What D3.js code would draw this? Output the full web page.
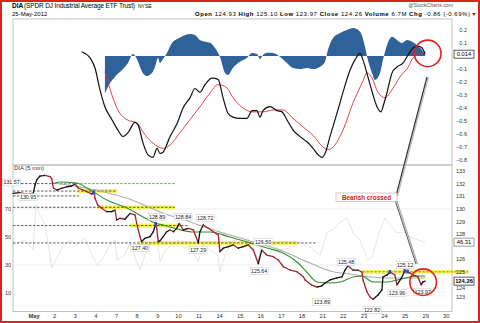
<!DOCTYPE html>
<html><head><meta charset="utf-8">
<script src="https://cdn.jsdelivr.net/npm/d3@7"></script>
<style>
body{margin:0;background:#fff}
svg{display:block}
text{font-family:"Liberation Sans",Arial,sans-serif}
</style></head>
<body><svg id="c" width="480" height="323"></svg>
<script>
// DIA 5-minute chart, 30 Apr - 25 May 2012, with MACD panel.
// Time is measured in trading days from the 30 Apr open.
const dayLabels = ["May","2","3","4","7","8","9","10","11","14","15","16","17","18","21","22","23","24","25","29","30"];
const macdTicks = [0.2,0.1,0,-0.1,-0.2,-0.3,-0.4,-0.5,-0.6,-0.7,-0.8];
const priceTicks = [133,132,131,130,129,128,126,125,124,123];
const oscTicks = [70,50,30,10];

const macdLine = [[3.33,0.033],[3.74,-0.015],[3.98,-0.092],[4.22,-0.26],[4.46,-0.39],[4.80,-0.49],[5.09,-0.57],[5.34,-0.62],[5.58,-0.59],[5.92,-0.51],[6.07,-0.53],[6.31,-0.67],[6.55,-0.76],[6.79,-0.78],[6.99,-0.71],[7.13,-0.75],[7.28,-0.74],[7.62,-0.62],[7.96,-0.52],[8.25,-0.40],[8.59,-0.32],[8.83,-0.25],[9.07,-0.28],[9.32,-0.22],[9.66,-0.17],[9.95,-0.18],[10.19,-0.32],[10.43,-0.44],[10.67,-0.47],[11.01,-0.48],[11.35,-0.48],[11.60,-0.42],[11.84,-0.42],[11.98,-0.47],[12.13,-0.42],[12.47,-0.39],[12.81,-0.42],[13.05,-0.43],[13.29,-0.49],[13.59,-0.57],[13.93,-0.62],[14.26,-0.66],[14.56,-0.71],[14.80,-0.76],[14.99,-0.78],[15.14,-0.75],[15.38,-0.62],[15.72,-0.44],[16.01,-0.28],[16.35,-0.11],[16.59,-0.03],[16.84,0.02],[16.98,-0.03],[17.22,-0.16],[17.47,-0.30],[17.66,-0.39],[17.86,-0.43],[17.95,-0.39],[18.15,-0.28],[18.39,-0.13],[18.63,-0.085],[18.92,-0.054],[19.17,0.008],[19.41,0.062],[19.65,0.077],[19.85,0.062],[20.0,0.014]];
const signalLine = [[4.46,-0.12],[4.80,-0.30],[5.09,-0.415],[5.53,-0.49],[6.02,-0.515],[6.31,-0.585],[6.79,-0.67],[7.28,-0.71],[7.62,-0.685],[8.10,-0.59],[8.59,-0.49],[9.07,-0.39],[9.56,-0.285],[9.95,-0.22],[10.38,-0.245],[10.67,-0.32],[11.16,-0.40],[11.64,-0.43],[12.13,-0.43],[12.62,-0.415],[13.10,-0.415],[13.59,-0.48],[14.07,-0.545],[14.56,-0.61],[15.04,-0.70],[15.28,-0.72],[15.53,-0.70],[16.01,-0.57],[16.50,-0.36],[16.93,-0.21],[17.18,-0.13],[17.42,-0.17],[17.71,-0.28],[18.05,-0.32],[18.39,-0.26],[18.78,-0.16],[19.17,-0.085],[19.41,-0.015],[19.89,0.023],[20.0,0.03]];
const histogram = [[4.46,-0.287],[4.71,-0.208],[4.95,-0.159],[5.29,-0.108],[5.58,-0.054],[5.82,0.015],[6.07,-0.044],[6.26,-0.121],[6.50,-0.154],[6.74,-0.131],[6.89,-0.082],[7.04,-0.015],[7.13,-0.054],[7.28,-0.023],[7.47,0.023],[7.71,0.10],[7.96,0.13],[8.25,0.154],[8.59,0.169],[8.83,0.162],[9.07,0.123],[9.32,0.11],[9.56,0.102],[9.80,0.062],[10.04,-0.005],[10.29,-0.131],[10.43,-0.146],[10.67,-0.092],[11.01,-0.044],[11.35,-0.015],[11.60,0.023],[11.84,0.015],[11.98,-0.023],[12.13,0.008],[12.32,0.025],[12.62,0.023],[12.95,-0.005],[13.29,-0.054],[13.59,-0.092],[13.93,-0.10],[14.26,-0.092],[14.56,-0.10],[14.90,-0.082],[15.14,-0.044],[15.28,0.046],[15.53,0.138],[15.87,0.177],[16.20,0.20],[16.50,0.215],[16.84,0.187],[17.08,0.072],[17.22,-0.031],[17.42,-0.131],[17.56,-0.185],[17.81,-0.131],[17.95,-0.031],[18.15,0.085],[18.39,0.148],[18.63,0.123],[18.87,0.10],[19.12,0.123],[19.36,0.11],[19.60,0.085],[19.85,0.046],[20.0,0.008]];

const price = [[0,131.23],[0.34,131.28],[0.66,131.17],[0.98,131.23],[1.07,131.89],[1.15,132.29],[1.31,132.60],[1.55,132.66],[1.80,132.55],[1.88,132.37],[1.96,131.65],[2.12,131.49],[2.36,131.63],[2.61,131.75],[2.85,131.81],[3.01,131.97],[3.17,131.65],[3.41,131.49],[3.65,131.31],[3.82,131.17],[3.94,131.36],[3.98,130.83],[4.11,130.30],[4.30,130.04],[4.55,129.77],[4.79,129.77],[4.95,129.90],[5.03,129.11],[5.19,129.25],[5.43,129.17],[5.68,129.64],[5.92,129.51],[6.00,128.85],[6.16,127.79],[6.24,127.40],[6.40,127.66],[6.65,127.79],[6.81,128.18],[6.94,128.89],[7.05,127.39],[7.13,127.45],[7.29,127.79],[7.46,128.18],[7.62,128.32],[7.78,128.18],[7.94,128.45],[8.07,128.84],[8.26,128.32],[8.51,128.45],[8.75,128.32],[8.99,127.29],[9.07,128.18],[9.23,128.72],[9.48,128.45],[9.72,128.18],[9.96,127.92],[10.04,126.60],[10.20,126.87],[10.45,126.99],[10.69,127.13],[10.93,126.87],[11.17,126.99],[11.42,127.13],[11.66,126.73],[11.90,125.64],[12.07,126.73],[12.31,126.33],[12.63,126.20],[12.87,125.94],[13.12,125.40],[13.44,125.14],[13.77,125.01],[14.09,124.61],[14.17,124.35],[14.49,123.95],[14.75,123.79],[14.98,123.89],[15.14,124.11],[15.38,124.35],[15.72,124.51],[15.96,124.59],[16.11,125.14],[16.25,125.48],[16.50,125.14],[16.74,125.14],[16.93,124.98],[16.98,124.35],[17.18,123.40],[17.32,123.00],[17.47,122.82],[17.71,123.16],[17.90,123.56],[17.95,124.59],[18.15,124.75],[18.29,124.98],[18.53,124.75],[18.63,123.96],[18.85,124.51],[19.02,125.12],[19.26,124.90],[19.41,124.75],[19.65,124.59],[19.80,123.97],[19.89,124.20],[20.0,124.26]];
const maFast = [[1.88,131.97],[2.28,132.13],[3.09,132.05],[3.74,131.49],[4.56,130.70],[5.53,130.06],[6.31,129.35],[6.89,128.87],[7.28,128.71],[7.96,128.40],[8.73,128.16],[9.56,128.16],[10.53,127.76],[11.50,127.29],[12.32,126.89],[13.10,126.49],[13.78,125.78],[14.26,124.98],[14.75,124.19],[15.38,124.11],[15.87,124.19],[16.50,124.59],[16.93,124.67],[17.47,124.19],[18.15,124.19],[18.63,124.35],[19.26,124.59],[19.60,124.67],[20.0,124.67]];
const maSlow = [[1.80,132.05],[3.01,131.81],[4.22,131.41],[5.68,130.75],[7.13,129.75],[8.59,128.95],[10.04,128.16],[11.50,127.45],[12.95,126.73],[14.41,125.70],[15.38,125.06],[16.36,124.82],[17.33,124.59],[18.29,124.51],[19.41,124.51],[20.0,124.51]];
const oscillator = [[0,44.3],[0.58,47.9],[0.97,40.7],[1.12,72.9],[1.31,65.7],[1.55,58.6],[1.89,27.9],[2.04,32.1],[2.38,42.9],[2.77,47.9],[3.11,44.3],[3.49,49.3],[3.83,37.1],[4.08,30],[4.37,35],[4.71,44.3],[4.95,47.9],[5.05,33.6],[5.43,37.1],[5.68,46.4],[5.97,33.6],[6.16,26.4],[6.40,37.1],[6.65,44.3],[6.99,51.4],[7.13,32.1],[7.38,40.7],[7.71,44.3],[8.01,47.9],[8.35,42.1],[8.59,44.3],[8.98,32.1],[9.22,44.3],[9.56,40.7],[9.95,37.1],[10.04,25],[10.29,37.1],[10.67,47.9],[11.01,44.3],[11.40,49.3],[11.74,40.7],[11.89,32.1],[12.08,47.9],[12.47,45.7],[12.95,40.7],[13.44,42.1],[13.93,45.7],[14.41,42.9],[14.90,37.1],[15.24,52.9],[15.62,56.4],[15.87,60.7],[16.21,63.6],[16.50,52.9],[16.84,47.9],[17.18,33.6],[17.42,35.7],[17.81,55],[18.05,63.6],[18.29,58.6],[18.63,52.9],[19.02,53.6],[19.26,50],[19.65,47.9],[20.0,46.31]];

// horizontal support / resistance lines: price, from day, to day, style
const levels = [[132.0,0,1.9,"black"],[132.0,1.9,7.9,"green"],[131.41,0,5.05,"black"],[131.02,0,3.2,"black"],[130.12,0,7.85,"black"],[128.67,0,8.5,"black"],[127.29,0,14.75,"black"],[125.0,16.95,22.1,"olive"]];
const bands = [[131.41,3.1,5.05],[130.12,4.1,7.85],[128.67,5.7,8.1],[127.29,6.1,13.8],[125.0,16.95,22.1]];
const blueMarks = [[3.92,131.3],[6.92,128.8],[18.28,124.98],[19.0,125.05],[19.15,125.02]];
// price notes: text, day, price where the note is pinned
const notes = [["131.57",-0.07,132.09],["130.95",0.73,130.94],["128.89",6.99,129.37],["127.40",6.16,126.89],["128.84",8.25,129.37],["127.29",8.98,126.73],["128.72",9.32,129.25],["126.50",12.13,127.39],["125.64",11.94,125.06],["125.48",16.16,125.78],["123.89",14.98,122.60],["122.82",17.42,121.97],["123.96",18.63,123.34],["125.12",19.02,125.54],["123.97",19.88,123.42]];

const svg = d3.select("#c");
const x = d3.scaleLinear().domain([0,21.3]).range([13,452]);
const yM = d3.scaleLinear().domain([-0.8,0.2]).range([160,30]);
const yP = d3.scaleLinear().domain([122,133]).range([309.6,171]);
const yO = d3.scaleLinear().domain([10,70]).range([293,209]);

// outer red frame
svg.append("rect").attr("x",1).attr("y",1).attr("width",478).attr("height",321)
  .attr("fill","none").attr("stroke","#e02020").attr("stroke-width",2);

// header
const hdr = svg.append("g").attr("font-size",6.5).attr("fill","#000");
hdr.append("text").attr("x",12).attr("y",8).attr("font-weight","bold").text("DIA");
hdr.append("text").attr("x",24).attr("y",8).attr("textLength",111).text("(SPDR DJ Industrial Average ETF Trust)");
hdr.append("text").attr("x",138).attr("y",8).attr("font-size",5).text("NYSE");
hdr.append("text").attr("x",12).attr("y",16).attr("font-size",6).text("25-May-2012");
const stats = hdr.append("text").attr("x",195).attr("y",16).attr("font-size",6).attr("textLength",275);
[["Open"," 124.93 "],["High"," 125.10 "],["Low"," 123.97 "],["Close"," 124.26 "],["Volume"," 6.7M "],["Chg"," -0.86 (-0.69%)"]].forEach(([k,v])=>{
  stats.append("tspan").attr("font-weight","bold").text(k);
  stats.append("tspan").text(v);
});
svg.append("path").attr("d","M472,13 L476,13 L474,16 Z").attr("fill","#d02020");
svg.append("text").attr("x",453).attr("y",7).attr("font-size",5.2).attr("fill","#555").attr("text-anchor","end").text("@StockCharts.com");

// panel frames
const fr = svg.append("g").attr("stroke","#b4b4b4").attr("stroke-width",0.8).attr("fill","none");
fr.append("rect").attr("x",13).attr("y",19).attr("width",439).attr("height",146);
fr.append("rect").attr("x",13).attr("y",165).attr("width",439).attr("height",146.5);

// gridlines in price panel
svg.append("g").selectAll("line").data([70,30]).join("line")
  .attr("x1",13).attr("x2",452).attr("y1",d=>yO(d)).attr("y2",d=>yO(d))
  .attr("stroke","#e8e8e8").attr("stroke-width",0.8);

// ---- MACD panel ----
svg.append("path").datum(histogram)
  .attr("d",d3.area().x(d=>x(d[0])).y0(yM(0)).y1(d=>yM(d[1])).curve(d3.curveMonotoneX))
  .attr("fill","#30629a");
svg.append("path").datum(signalLine)
  .attr("d",d3.line().x(d=>x(d[0])).y(d=>yM(d[1])).curve(d3.curveMonotoneX))
  .attr("fill","none").attr("stroke","#e03030").attr("stroke-width",0.9);
svg.append("path").datum(macdLine)
  .attr("d",d3.line().x(d=>x(d[0])).y(d=>yM(d[1])).curve(d3.curveMonotoneX))
  .attr("fill","none").attr("stroke","#111").attr("stroke-width",1.2);

const axM = svg.append("g").attr("transform","translate(467,0)")
  .call(d3.axisRight(yM).tickValues(macdTicks).tickSize(0).tickFormat(d=>d===0?"":d3.format(".1f")(d)));
axM.select(".domain").remove();
axM.selectAll("text").attr("x",0).attr("text-anchor","end").attr("font-size",5.5).attr("font-family",null).attr("fill","#333");

// ---- price panel ----
svg.append("path").datum(oscillator)
  .attr("d",d3.line().x(d=>x(d[0])).y(d=>yO(d[1])))
  .attr("fill","none").attr("stroke","#dedede").attr("stroke-width",0.8);

svg.append("g").selectAll("rect").data(bands).join("rect")
  .attr("x",d=>x(d[1])).attr("width",d=>x(d[2])-x(d[1]))
  .attr("y",d=>yP(d[0])-2).attr("height",4).attr("fill","#f6f24a").attr("opacity",0.9);
const lvlColor = {black:"#333",green:"#3a9a3a",olive:"#777733"};
svg.append("g").selectAll("line").data(levels).join("line")
  .attr("x1",d=>x(d[1])).attr("x2",d=>x(d[2])).attr("y1",d=>yP(d[0])).attr("y2",d=>yP(d[0]))
  .attr("stroke",d=>lvlColor[d[3]]).attr("stroke-width",0.8).attr("stroke-dasharray","2.5,1.5");

svg.append("path").datum(maSlow)
  .attr("d",d3.line().x(d=>x(d[0])).y(d=>yP(d[1])).curve(d3.curveMonotoneX))
  .attr("fill","none").attr("stroke","#acacac").attr("stroke-width",1.1);
svg.append("path").datum(maFast)
  .attr("d",d3.line().x(d=>x(d[0])).y(d=>yP(d[1])).curve(d3.curveMonotoneX))
  .attr("fill","none").attr("stroke","#2f8f2f").attr("stroke-width",1.1);

const segs = d3.pairs(price);
svg.append("g").selectAll("line").data(segs).join("line")
  .attr("x1",d=>x(d[0][0])).attr("y1",d=>yP(d[0][1]))
  .attr("x2",d=>x(d[1][0])).attr("y2",d=>yP(d[1][1]))
  .attr("stroke",d=>d[1][1]<d[0][1]?"#a82030":"#111").attr("stroke-width",1.3).attr("stroke-linecap","round");
svg.append("g").selectAll("rect").data(blueMarks).join("rect")
  .attr("x",d=>x(d[0])-1.2).attr("y",d=>yP(d[1])-2).attr("width",2.4).attr("height",4).attr("fill","#3344dd");

// price notes
const ng = svg.append("g").attr("font-size",5.3);
notes.forEach(([t,d,p])=>{
  const cx = x(d), cy = yP(p);
  ng.append("rect").attr("x",cx-9).attr("y",cy-3.5).attr("width",18).attr("height",7)
    .attr("fill","#fff").attr("stroke","#c4c4c4").attr("stroke-width",0.5);
  ng.append("text").attr("x",cx).attr("y",cy+2).attr("text-anchor","middle").attr("fill","#222").text(t);
});

svg.append("text").attr("x",14).attr("y",170).attr("font-size",6).attr("fill","#333").text("DIA (5 min)");

// right price axis
const axP = svg.append("g").attr("transform","translate(456,0)")
  .call(d3.axisRight(yP).tickValues(priceTicks).tickSize(0).tickFormat(d3.format("d")));
axP.select(".domain").remove();
axP.selectAll("text").attr("x",0).attr("font-size",5.5).attr("font-family",null).attr("fill","#333")
  .attr("dy",d=>d===124?"0.95em":"0.32em");
// left oscillator axis
const axO = svg.append("g").attr("transform","translate(11,0)")
  .call(d3.axisLeft(yO).tickValues(oscTicks).tickSize(0));
axO.select(".domain").remove();
axO.selectAll("text").attr("x",0).attr("font-size",5.5).attr("font-family",null).attr("fill","#333");

// last-value boxes
function valueBox(v, yy, bold, stroke){
  const g = svg.append("g");
  g.append("rect").attr("x",454).attr("y",yy-4).attr("width",20).attr("height",8)
    .attr("fill","#fff").attr("stroke",stroke).attr("stroke-width",0.8);
  g.append("text").attr("x",464).attr("y",yy+2).attr("text-anchor","middle").attr("font-size",5.8)
    .attr("font-weight",bold?"bold":"normal").text(v);
}
valueBox(d3.format(".3f")(macdLine[macdLine.length-1][1]), yM(macdLine[macdLine.length-1][1]), false, "#333");
valueBox(d3.format(".2f")(oscillator[oscillator.length-1][1]), yO(oscillator[oscillator.length-1][1]), false, "#888");
valueBox(d3.format(".2f")(price[price.length-1][1]), yP(price[price.length-1][1]), true, "#333");

// bottom date axis
const axX = svg.append("g").attr("transform","translate(0,312)")
  .call(d3.axisBottom(x).tickValues(d3.range(1,22)).tickSize(0).tickFormat((d,i)=>dayLabels[i]));
axX.select(".domain").remove();
axX.selectAll("text").attr("y",2).attr("font-size",5.8).attr("font-family",null).attr("fill","#333")
  .attr("font-weight",(d,i)=>i===0?"bold":"normal");

// annotation
const ann = svg.append("g");
const bx = 336, by = 193;
ann.append("path").attr("d",`M396,196 L427,77`).attr("stroke","#bbb").attr("stroke-width",1.2).attr("transform","translate(1.5,0)");
ann.append("path").attr("d",`M396,196 L427,77`).attr("stroke","#333").attr("stroke-width",1.2);
ann.append("path").attr("d",`M395,200 L416,264`).attr("stroke","#aaa").attr("stroke-width",1.2).attr("transform","translate(1.5,0)");
ann.append("path").attr("d",`M395,200 L416,264`).attr("stroke","#555").attr("stroke-width",1);
ann.append("rect").attr("x",bx).attr("y",by).attr("width",61).attr("height",8.5).attr("fill","#fff").attr("stroke","#aaa").attr("stroke-width",0.6);
ann.append("text").attr("x",bx+30.5).attr("y",by+6.5).attr("text-anchor","middle").attr("font-size",6.3)
  .attr("font-weight","bold").attr("fill","#d02020").text("Bearish crossed");
ann.append("circle").attr("cx",x(20.12)).attr("cy",yM(0.02)).attr("r",13.3).attr("fill","none").attr("stroke","#e02020").attr("stroke-width",1.6);
ann.append("circle").attr("cx",x(19.9)).attr("cy",yP(124.18)).attr("r",13.3).attr("fill","none").attr("stroke","#e02020").attr("stroke-width",1.6);
</script></body></html>
